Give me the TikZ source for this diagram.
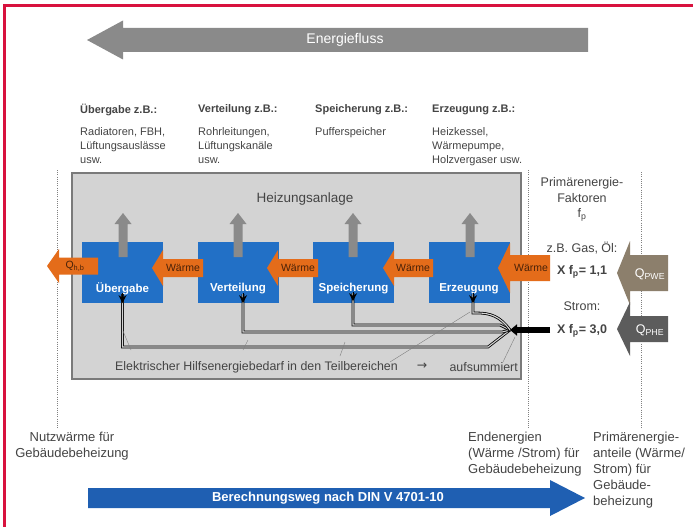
\documentclass[tikz,border=0pt]{standalone}
\usepackage{fontspec}
\setmainfont{Liberation Sans}
\newfontfamily\arrowfont{DejaVu Sans}
\usetikzlibrary{arrows.meta}

\definecolor{framered}{HTML}{D8123E}
\definecolor{flowgray}{HTML}{8A8A8A}
\definecolor{panelgray}{HTML}{D3D3D3}
\definecolor{paneledge}{HTML}{7A7A7A}
\definecolor{stageblue}{HTML}{2270C6}
\definecolor{heatorange}{HTML}{E46C1A}
\definecolor{pwebrown}{HTML}{8C7F6C}
\definecolor{phegray}{HTML}{5C5C5C}
\definecolor{calcblue}{HTML}{1F5FB2}
\definecolor{txt}{HTML}{444444}
\definecolor{heattxt}{HTML}{4A2208}

% block arrow: style, tip x, mid y, head base x, tail x, half shaft, half head
\newcommand{\blockarrow}[7]{%
  \fill[#1] (#2,#3) -- (#4,{#3-#7}) -- (#4,{#3-#6}) -- (#5,{#3-#6})
    -- (#5,{#3+#6}) -- (#4,{#3+#6}) -- (#4,{#3+#7}) -- cycle;}
% upward block arrow: style, x, tip y, head base y, tail y, half shaft, half head
\newcommand{\uparrowblock}[7]{%
  \fill[#1] (#2,#3) -- ({#2+#7},#4) -- ({#2+#6},#4) -- ({#2+#6},#5)
    -- ({#2-#6},#5) -- ({#2-#6},#4) -- ({#2-#7},#4) -- cycle;}

\tikzset{
  panel/.style={draw=paneledge, line width=1.2pt, fill=panelgray,
    minimum width=449pt, minimum height=206pt},
  stage/.style={fill=stageblue, minimum width=81pt, minimum height=61pt},
  stagetxt/.style={text=white, font=\fontsize{11.5}{14}\selectfont\bfseries},
  headtxt/.style={anchor=west, font=\fontsize{11}{14}\selectfont\bfseries},
  itemtxt/.style={anchor=north west, align=left, font=\fontsize{11}{14}\selectfont},
  sidetxt/.style={font=\fontsize{12.5}{15}\selectfont},
  foottxt/.style={anchor=north west, align=left, font=\fontsize{13}{16}\selectfont},
  heattag/.style={text=heattxt, font=\fontsize{10.5}{12}\selectfont},
  auxtxt/.style={font=\fontsize{12.4}{14}\selectfont},
  guide/.style={draw=gray, line width=0.6pt, dash pattern=on 0.8pt off 1.4pt},
  eline/.style={draw=black, line width=0.8pt, double=panelgray, double distance=1.1pt},
  etip/.style={draw=black, line width=1pt, -{Stealth[length=8pt,width=8pt]}},
  leader/.style={draw=gray, line width=0.4pt},
}

\begin{document}
\begin{tikzpicture}[x=1pt, y=-1pt, every node/.style={inner sep=0pt, text=txt}]
\useasboundingbox (0,0) rectangle (693,527);
\fill[white] (0,0) rectangle (693,527);

% page frame
\draw[framered, line width=2.5pt] (4.5,527) -- (4.5,5.5) -- (693,5.5);

% energy flow arrow
\blockarrow{fill=flowgray}{87}{40}{123}{588}{12}{19.5}
\node[text=white, font=\fontsize{14}{16}\selectfont] (eflow) at (345,40) {Energiefluss};

% column headings and examples
\node[headtxt] (hUe) at (80,110) {Übergabe z.B.:};
\node[headtxt] (hVe) at (198,110) {Verteilung z.B.:};
\node[headtxt] (hSp) at (315,110) {Speicherung z.B.:};
\node[headtxt] (hEr) at (432,110) {Erzeugung z.B.:};
\node[itemtxt] (iUe) at (80,127) {Radiatoren, FBH,\\Lüftungsauslässe\\usw.};
\node[itemtxt] (iVe) at (198,127) {Rohrleitungen,\\Lüftungskanäle\\usw.};
\node[itemtxt] (iSp) at (315,127) {Pufferspeicher};
\node[itemtxt] (iEr) at (432,127) {Heizkessel,\\Wärmepumpe,\\Holzvergaser usw.};

% dotted balance boundaries
\draw[guide] (57,170) -- (57,428);
\draw[guide] (528,170) -- (528,428);
\draw[guide] (641,172) -- (641,428);

% heating plant
\node[panel] (plant) at (296.5,276) {};
\node[font=\fontsize{13.5}{16}\selectfont] (plantT) at (305,199) {Heizungsanlage};

% stages
\node[stage] (ue) at (122.5,272.5) {};
\node[stage] (ve) at (238,272.5) {};
\node[stage] (sp) at (353.5,272.5) {};
\node[stage] (ez) at (469,272.5) {};

% losses leaving each stage
\uparrowblock{fill=flowgray}{123}{213}{224}{257}{4.5}{8.5}
\uparrowblock{fill=flowgray}{238}{213}{224}{257}{4.5}{8.5}
\uparrowblock{fill=flowgray}{353}{213}{224}{257}{4.5}{8.5}
\uparrowblock{fill=flowgray}{470}{213}{224}{257}{4.5}{8.5}

% heat passed from stage to stage
\blockarrow{fill=heatorange}{47}{266}{59}{98}{8.5}{17}
\blockarrow{fill=heatorange}{152}{268}{163}{203}{9}{18}
\blockarrow{fill=heatorange}{267}{268}{278}{318}{9}{18}
\blockarrow{fill=heatorange}{383}{268}{394}{433}{9}{18}
\blockarrow{fill=heatorange}{498}{268}{510}{550}{13}{25}
\node[heattag] (qhb) at (75,266) {Q\textsubscript{h,b}};
\node[heattag] (w1) at (183,268) {Wärme};
\node[heattag] (w2) at (298,268) {Wärme};
\node[heattag] (w3) at (413,268) {Wärme};
\node[heattag] (w4) at (531,268) {Wärme};

% stage names
\node[stagetxt] (ueT) at (122.5,289) {Übergabe};
\node[stagetxt] (veT) at (238,289) {Verteilung};
\node[stagetxt] (spT) at (353.5,289) {Speicherung};
\node[stagetxt] (ezT) at (469,289) {Erzeugung};

% primary energy factors
\node[sidetxt] (pf1) at (582,183) {Primärenergie-};
\node[sidetxt] (pf2) at (582,198) {Faktoren};
\node[sidetxt] (pf3) at (582,215) {f\textsubscript{p}};
\node[sidetxt] (gas) at (582,248) {z.B. Gas, Öl:};
\node[sidetxt, font=\fontsize{12.5}{15}\selectfont\bfseries] (fp1) at (582,272) {X f\textsubscript{p}= 1,1};
\node[sidetxt] (strom) at (582,306) {Strom:};
\node[sidetxt, font=\fontsize{12.5}{15}\selectfont\bfseries] (fp3) at (582,331) {X f\textsubscript{p}= 3,0};

% primary energy inputs
\blockarrow{fill=pwebrown}{617}{273}{630}{668}{18}{32}
\blockarrow{fill=phegray}{617}{329}{630}{668}{13}{27}
\node[text=white, font=\fontsize{12.5}{14}\selectfont] (qpwe) at (650,274) {Q\textsubscript{PWE}};
\node[text=white, font=\fontsize{12.5}{14}\selectfont] (qphe) at (650,330) {Q\textsubscript{PHE}};

% auxiliary electricity distribution
\coordinate (jn) at (510,330);
\coordinate (feed) at (550,330);
\draw[eline] (jn) -- (488,347) -| ([yshift=9pt]ue.south);
\draw[eline] (jn) -- (502,332) -| ([xshift=5pt,yshift=9pt]ve.south);
\draw[eline] (jn) -- (500,325) -| ([xshift=-0.5pt,yshift=10pt]sp.south);
\draw[eline] (jn) .. controls (500,316) and (490,313) .. (477,313) -| ([xshift=4pt,yshift=9pt]ez.south);
\draw[etip] ([yshift=10pt]ue.south) -- (ue.south);
\draw[etip] ([xshift=5pt,yshift=10pt]ve.south) -- ([xshift=5pt]ve.south);
\draw[etip] ([xshift=-0.5pt,yshift=11pt]sp.south) -- ([xshift=-0.5pt,yshift=2pt]sp.south);
\draw[etip] ([xshift=4pt,yshift=10pt]ez.south) -- ([xshift=4pt]ez.south);
\draw[line width=6pt, -{Triangle[length=7pt,width=11pt]}] (feed) -- (jn);

% leaders from the caption to the lines
\draw[leader] (123,331) -- (131,350);
\draw[leader] (248,340) -- (243,350);
\draw[leader] (345,342) -- (340,356);
\draw[leader] (390,362) -- (470,312);
\draw[leader] (503,362) -- (515,337);

\node[auxtxt, anchor=west] (aux) at (115,367) {Elektrischer Hilfsenergiebedarf in den Teilbereichen};
\node[auxtxt] (auxarr) at (422,366) {\arrowfont →};
\node[auxtxt, anchor=east] (auxsum) at (518,367) {aufsummiert};

% balance levels
\node[foottxt, anchor=north, align=center] (nutz) at (72,432) {Nutzwärme für\\Gebäudebeheizung};
\node[foottxt] (end) at (468,432) {Endenergien\\(Wärme /Strom) für\\Gebäudebeheizung};
\node[foottxt] (prim) at (593,432) {Primärenergie-\\anteile (Wärme/\\Strom) für\\Gebäude-\\beheizung};

% calculation direction
\blockarrow{fill=calcblue}{585}{498}{550}{88}{10}{18}
\node[text=white, font=\fontsize{13}{15}\selectfont\bfseries] (calc) at (328,498) {Berechnungsweg nach DIN V 4701-10};
\end{tikzpicture}
\end{document}
